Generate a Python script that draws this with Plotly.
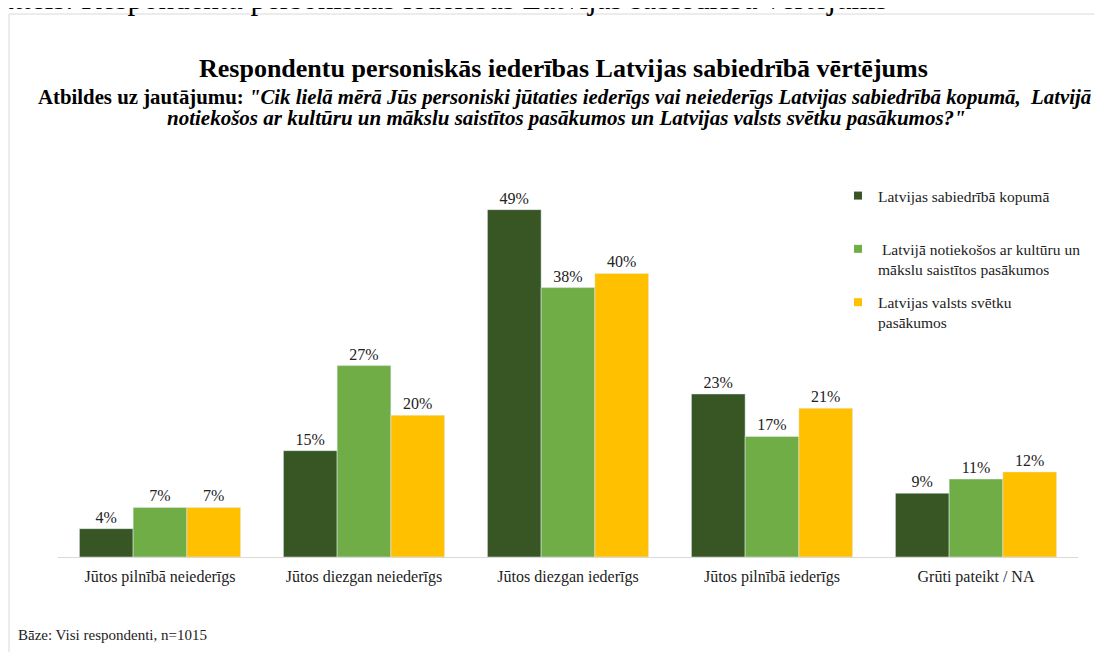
import plotly.graph_objects as go

categories = ["Jūtos pilnībā neiederīgs", "Jūtos diezgan neiederīgs", "Jūtos diezgan iederīgs",
              "Jūtos pilnībā iederīgs", "Grūti pateikt / NA"]
series_names = ["Latvijas sabiedrībā kopumā<br>&nbsp;",
                " Latvijā notiekošos ar kultūru un<br>mākslu saistītos pasākumos",
                "Latvijas valsts svētku<br>pasākumos"]
sabiedriba = [4, 15, 49, 23, 9]
kultura = [7, 27, 38, 17, 11]
svetki = [7, 20, 40, 21, 12]

colors = ["#375623", "#70AD47", "#FFC000"]
FONT = "Liberation Serif"

# page has an 8px body margin, so the figure starts at (8, 8)
OFF = 8
W, H = 1102 - OFF, 652 - OFF
ML, MR, MT, MB = 58 - OFF, 24, 160 - OFF, 95
PW, PH = W - ML - MR, H - MT - MB


def px_x(x):
    # x in page pixels -> paper
    return (x - OFF - ML) / PW


def px_y(y):
    # y in page pixels -> paper
    return (H - MB - (y - OFF)) / PH


fig = go.Figure()
for i, vals in enumerate([sabiedriba, kultura, svetki]):
    fig.add_trace(go.Bar(
        x=categories, y=vals, name=series_names[i], marker_color=colors[i],
        text=[f"{v}%" for v in vals], textposition="outside",
        textfont=dict(family=FONT, size=16, color="#222"),
        cliponaxis=False, showlegend=False,
    ))
# legend entries with small square keys
for i, name in enumerate(series_names):
    fig.add_trace(go.Scatter(
        x=[None], y=[None], mode="markers", name=name, legendgroup=str(i),
        marker=dict(symbol="square", size=8, color=colors[i]),
    ))

fig.update_layout(
    width=W, height=H,
    margin=dict(l=ML, r=MR, t=MT, b=MB),
    paper_bgcolor="white", plot_bgcolor="white",
    barmode="group", bargap=0.21, bargroupgap=0,
    font=dict(family=FONT, size=16, color="#222"),
    showlegend=True,
    legend=dict(x=px_x(838), y=px_y(179), xanchor="left", yanchor="top",
                font=dict(family=FONT, size=15.5, color="#222"), valign="top",
                tracegroupgap=10, itemwidth=30, bgcolor="rgba(0,0,0,0)"),
    xaxis=dict(showline=True, linecolor="#d9d9d9", linewidth=1, ticks="",
               ticklabelstandoff=5,
               tickfont=dict(family=FONT, size=16, color="#222"), showgrid=False),
    yaxis=dict(range=[0, 56], visible=False, showgrid=False),
)

annotations = [
    dict(text="attēls. Respondentu personiskās iederības Latvijas sabiedrībā vērtējums",
         x=px_x(-2), y=px_y(18), xanchor="left", yanchor="bottom",
         font=dict(family=FONT, size=31, color="#000")),
    dict(text="<b>Respondentu personiskās iederības Latvijas sabiedrībā vērtējums</b>",
         x=px_x(563), y=px_y(68), xanchor="center", yanchor="middle",
         font=dict(family=FONT, size=26, color="#000")),
    dict(text="<b>Atbildes uz jautājumu: <i>\"Cik lielā mērā Jūs personiski jūtaties iederīgs vai neiederīgs "
              "Latvijas sabiedrībā kopumā,  Latvijā</i></b>",
         x=px_x(564.5), y=px_y(97), xanchor="center", yanchor="middle",
         font=dict(family=FONT, size=20.8, color="#000")),
    dict(text="<b><i>notiekošos ar kultūru un mākslu saistītos pasākumos un Latvijas valsts svētku pasākumos?\"</i></b>",
         x=px_x(566), y=px_y(118), xanchor="center", yanchor="middle",
         font=dict(family=FONT, size=21, color="#000")),
    dict(text="Bāze: Visi respondenti, n=1015",
         x=px_x(16), y=px_y(635), xanchor="left", yanchor="middle",
         font=dict(family=FONT, size=15, color="#222")),
]
for a in annotations:
    a.update(xref="paper", yref="paper", showarrow=False)
fig.update_layout(annotations=annotations)

fig.add_shape(type="rect", xref="paper", yref="paper",
              x0=px_x(9), x1=px_x(1120), y0=px_y(680), y1=px_y(14),
              line=dict(color="#d9d9d9", width=1), fillcolor="rgba(0,0,0,0)", layer="below")

fig.write_html("out.html")
